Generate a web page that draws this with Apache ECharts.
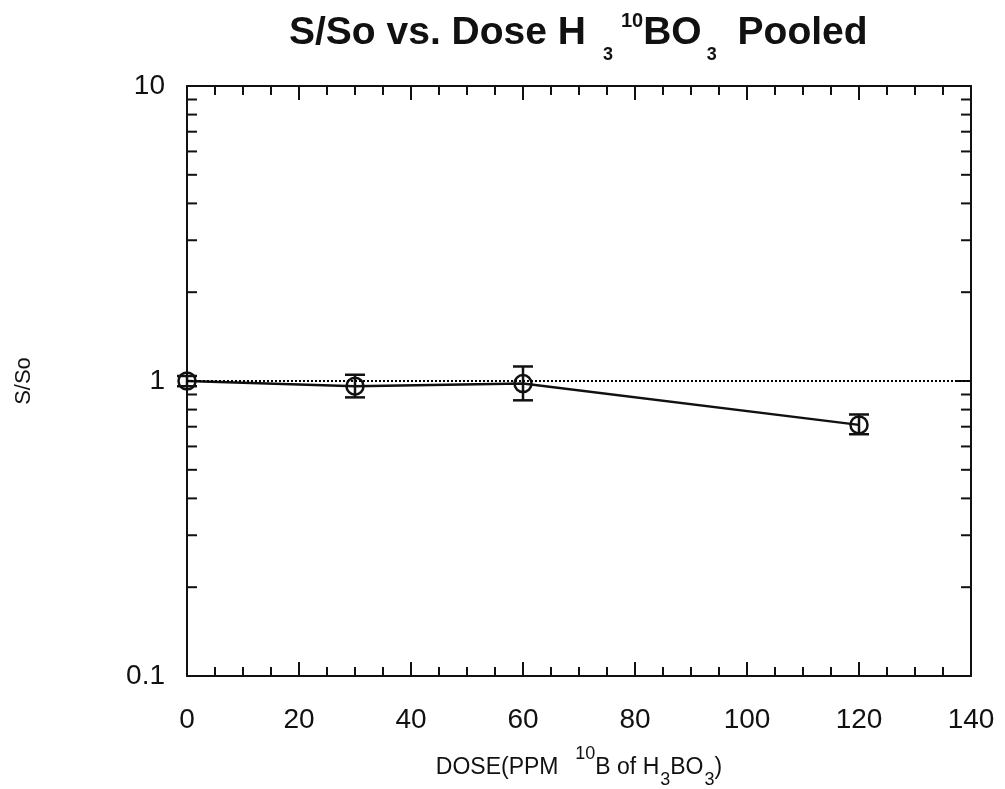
<!DOCTYPE html>
<html>
<head>
<meta charset="utf-8">
<title>S/So vs. Dose</title>
<script src="https://cdn.jsdelivr.net/npm/echarts@6/dist/echarts.min.js"></script>
<style>
  html, body { margin: 0; padding: 0; background: #fff; }
  #chart { width: 1005px; height: 789px; }
</style>
</head>
<body>
<div id="chart"></div>
<script>
// values
var doses = [0, 30, 60, 120];
var ratio = [1.0, 0.96, 0.98, 0.71];
var errLow = [0.96, 0.88, 0.86, 0.66];
var errHigh = [1.04, 1.05, 1.12, 0.77];
var xTicks = [0, 20, 40, 60, 80, 100, 120, 140];
var yTickLabels = ['0.1', '1', '10'];
var yMajorTicks = [0.1, 1, 10];
var yMinorTicks = [0.2, 0.3, 0.4, 0.5, 0.6, 0.7, 0.8, 0.9, 2, 3, 4, 5, 6, 7, 8, 9];

var ink = '#111';
var font = 'Liberation Sans, Arial, Helvetica, sans-serif';

var lineData = [];
var barData = [];
for (var i = 0; i < doses.length; i++) {
	lineData.push([doses[i], ratio[i]]);
	barData.push([doses[i], errLow[i], errHigh[i]]);
}
// y ticks: [x, value, length]
var yTickData = [];
for (var i = 0; i < yMajorTicks.length; i++) {
	yTickData.push([xTicks[0], yMajorTicks[i], 14]);
}
for (var i = 0; i < yMinorTicks.length; i++) {
	yTickData.push([xTicks[0], yMinorTicks[i], 10]);
}

function xAxisOpt(pos, showLabel) {
	return {
		type: 'value',
		position: pos,
		min: xTicks[0],
		max: xTicks[xTicks.length - 1],
		interval: 20,
		axisLine: { show: true, onZero: false, lineStyle: { color: ink, width: 2 } },
		axisTick: { show: true, inside: true, length: 14, lineStyle: { color: ink, width: 2 } },
		minorTick: { show: true, splitNumber: 4, length: 9, lineStyle: { color: ink, width: 2 } },
		splitLine: { show: false },
		axisLabel: { show: showLabel, color: ink, fontSize: 28, fontFamily: font, margin: 30 }
	};
}

function yAxisOpt(pos, showLabel) {
	return {
		type: 'log',
		logBase: 10,
		position: pos,
		min: 0.1,
		max: 10,
		axisLine: { show: true, onZero: false, lineStyle: { color: ink, width: 2 } },
		axisTick: { show: false },
		splitLine: { show: false },
		axisLabel: {
			show: showLabel, color: ink, fontSize: 28, fontFamily: font, margin: 22,
			formatter: function (v) {
				var idx = Math.round(Math.log10(v)) + 1;
				return yTickLabels[idx] !== undefined ? yTickLabels[idx] : '';
			}
		}
	};
}

var xBottom = xAxisOpt('bottom', true);
xBottom.name = '{m|DOSE(PPM  }{p|10}{m|B of H}{s|3}{m|BO}{s|3}{m|)}';
xBottom.nameLocation = 'middle';
xBottom.nameGap = 72;
xBottom.nameTextStyle = {
	color: ink,
	fontFamily: font,
	rich: {
		m: { fontSize: 23, fontFamily: font, color: ink, lineHeight: 40 },
		p: { fontSize: 18, fontFamily: font, color: ink, height: 12, verticalAlign: 'top', padding: [0, 0, 0, 4] },
		s: { fontSize: 18, fontFamily: font, color: ink, height: 15, verticalAlign: 'bottom', padding: [0, 0, 0, 1] }
	}
};
var yLeft = yAxisOpt('left', true);
yLeft.name = 'S/So';
yLeft.nameLocation = 'middle';
yLeft.nameGap = 152;
yLeft.nameTextStyle = { color: ink, fontSize: 22, fontFamily: font };

var myChart = echarts.init(document.getElementById('chart'));
var option = {
	backgroundColor: '#fff',
	animation: false,
	title: {
		text: '{m|S/So vs. Dose H}{s1|3}{p|10}{m|BO}{s2|3}{m| Pooled}',
		left: 289,
		top: 3,
		padding: 0,
		textStyle: {
			rich: {
				m: { fontSize: 39, fontWeight: 'bold', fontFamily: font, color: ink, lineHeight: 60 },
				p: { fontSize: 20, fontWeight: 'bold', fontFamily: font, color: ink, height: 36, verticalAlign: 'top', padding: [0, 0, 0, 4] },
				s1: { fontSize: 18, fontWeight: 'bold', fontFamily: font, color: ink, height: 15, verticalAlign: 'bottom', padding: [0, 4, 0, 17] },
				s2: { fontSize: 18, fontWeight: 'bold', fontFamily: font, color: ink, height: 15, verticalAlign: 'bottom', padding: [0, 10, 0, 5] }
			}
		}
	},
	grid: { left: 187, right: 34, top: 86, bottom: 113, containLabel: false, outerBoundsMode: 'none' },
	xAxis: [xBottom, xAxisOpt('top', false)],
	yAxis: [yLeft, yAxisOpt('right', false)],
	series: [
		{
			type: 'custom',
			name: 'yticks',
			silent: true,
			xAxisIndex: 0,
			yAxisIndex: 0,
			data: yTickData,
			clip: false,
			renderItem: function (params, api) {
				var len = api.value(2);
				var p = api.coord([xTicks[0], api.value(1)]);
				var q = api.coord([xTicks[xTicks.length - 1], api.value(1)]);
				return {
					type: 'group',
					children: [
						{ type: 'line', shape: { x1: p[0], y1: p[1], x2: p[0] + len, y2: p[1] }, style: { stroke: ink, lineWidth: 2 } },
						{ type: 'line', shape: { x1: q[0] - len, y1: q[1], x2: q[0], y2: q[1] }, style: { stroke: ink, lineWidth: 2 } }
					]
				};
			}
		},
		{
			type: 'line',
			name: 'S/So',
			data: lineData,
			symbol: 'circle',
			symbolSize: 17,
			clip: false,
			itemStyle: { color: 'rgba(0,0,0,0)', borderColor: ink, borderWidth: 2.5 },
			lineStyle: { color: ink, width: 2.5 },
			markLine: {
				silent: true,
				symbol: 'none',
				label: { show: false },
				lineStyle: { color: '#000', type: 'dotted', width: 2 },
				data: [{ yAxis: 1 }]
			},
			z: 3
		},
		{
			type: 'custom',
			name: 'error',
			silent: true,
			data: barData,
			clip: false,
			renderItem: function (params, api) {
				var lo = api.coord([api.value(0), api.value(1)]);
				var hi = api.coord([api.value(0), api.value(2)]);
				var w = 10;
				var st = { stroke: ink, lineWidth: 2.5 };
				return {
					type: 'group',
					children: [
						{ type: 'line', shape: { x1: lo[0], y1: lo[1], x2: hi[0], y2: hi[1] }, style: st },
						{ type: 'line', shape: { x1: lo[0] - w, y1: lo[1], x2: lo[0] + w, y2: lo[1] }, style: st },
						{ type: 'line', shape: { x1: hi[0] - w, y1: hi[1], x2: hi[0] + w, y2: hi[1] }, style: st }
					]
				};
			},
			z: 4
		}
	]
};
myChart.setOption(option);
</script>
</body>
</html>
